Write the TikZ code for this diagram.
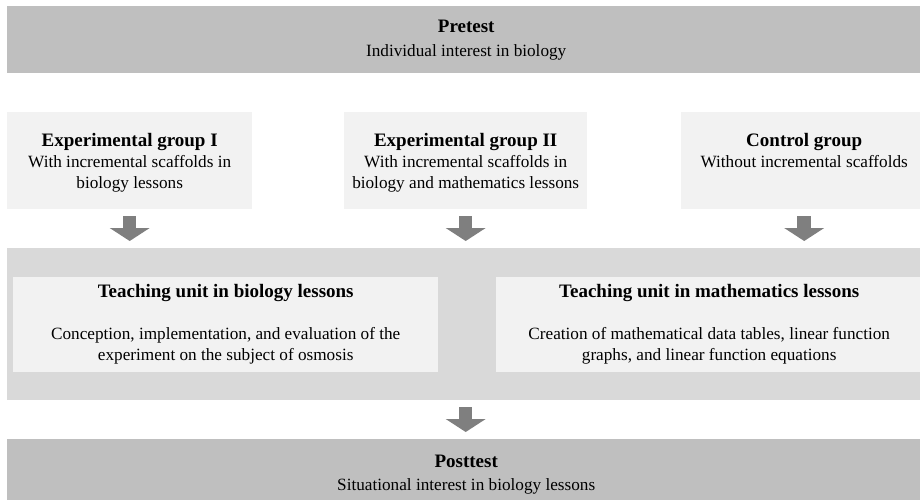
\documentclass[tikz,border=0pt]{standalone}
\usepackage{fontspec}
\setmainfont{Liberation Serif}
\usepackage{xcolor}
\usetikzlibrary{arrows.meta,positioning}
\definecolor{testgray}{HTML}{BFBFBF}
\definecolor{unitgray}{HTML}{D9D9D9}
\definecolor{boxgray}{HTML}{F2F2F2}
\definecolor{arrgray}{HTML}{7F7F7F}
\newcommand{\boxtitle}{\bfseries\fontsize{19}{21}\selectfont}

\begin{document}
\begin{tikzpicture}[
  x=1pt,y=-1pt,
  font=\fontsize{17.2}{21}\selectfont,
  box/.style={anchor=north west,inner sep=0pt,align=center},
  testbox/.style={box,fill=testgray,minimum width=918pt},
  groupbox/.style={box,fill=boxgray,minimum height=97pt},
  grouptext/.style={align=center,inner sep=0pt},
  unitbox/.style={box,fill=boxgray,minimum width=426pt,minimum height=95pt},
  arr/.style={draw=arrgray,line width=13.5pt,shorten <=7pt,shorten >=7pt,
    -{Triangle[width=40pt,length=13pt,line width=0pt,fill=arrgray]}}
]
\useasboundingbox (0,0) rectangle (920,500);
\clip (0,0) rectangle (920,500);
% tests
\node[testbox,minimum height=67pt] (pre) at (7,6) {{\boxtitle Pretest}\\[3pt]Individual interest in biology};
\node[testbox,minimum height=70pt] (post) at (7,439) {{\boxtitle Posttest}\\[2pt]Situational interest in biology lessons};
% groups
\node[groupbox,minimum width=245pt] (eg1) at (7,112) {};
\node[groupbox,minimum width=243pt] (eg2) at (344,112) {};
\node[groupbox,minimum width=246pt] (ctrl) at (681,112) {};
\node[grouptext,below=21pt of eg1.north] (eg1txt) {{\boxtitle Experimental group I}\\With incremental scaffolds in\\biology lessons};
\node[grouptext,below=21pt of eg2.north] (eg2txt) {{\boxtitle Experimental group II}\\With incremental scaffolds in\\biology and mathematics lessons};
\node[grouptext,below=21pt of ctrl.north] (ctrltxt) {{\boxtitle Control group}\\Without incremental scaffolds};
% teaching units
\node[box,fill=unitgray,minimum width=918pt,minimum height=152pt] (lessons) at (7,248) {};
\node[unitbox,minimum width=425pt] (bio) at (13,277) {{\boxtitle Teaching unit in biology lessons}\\[21pt]Conception, implementation, and evaluation of the\\experiment on the subject of osmosis};
\node[unitbox] (math) at (496,277) {{\boxtitle Teaching unit in mathematics lessons}\\[21pt]Creation of mathematical data tables, linear function\\graphs, and linear function equations};
% arrows
\draw[arr] (eg1.south) -- (eg1.south |- lessons.north);
\draw[arr] (eg2.south) -- (eg2.south |- lessons.north);
\draw[arr] (ctrl.south) -- (ctrl.south |- lessons.north);
\draw[arr] (lessons.south -| eg2.south) -- (eg2.south |- post.north);
\end{tikzpicture}
\end{document}
